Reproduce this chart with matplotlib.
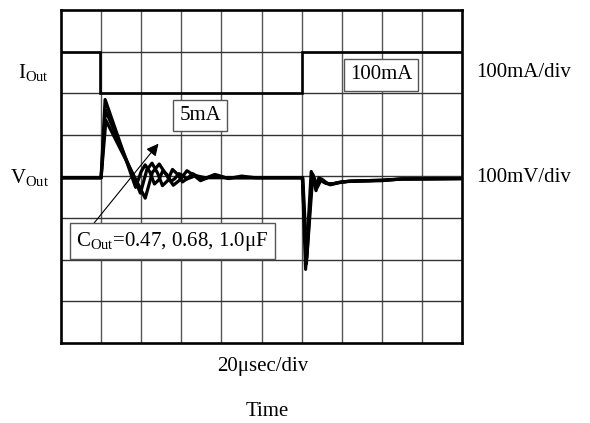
import matplotlib

matplotlib.use("Agg")
import matplotlib.pyplot as plt

# scope screen: 10 x 8 divisions, values read in divisions
N_XDIV = 10
N_YDIV = 8

# output current (division units)
i_t = [0.0, 0.98, 0.98, 6.0, 6.0, 10.0]
i_v = [7.0, 7.0, 6.0, 6.0, 7.0, 7.0]

# output voltage, one trace per output capacitor (0.47, 0.68, 1.0 uF)
v1_t = [0.0, 1.0, 1.10, 1.86, 2.00, 2.10, 2.22, 2.33, 2.44, 2.54, 2.64, 2.74, 2.84,
        2.94, 3.04, 3.14, 3.36, 3.60, 5.95,
        6.02, 6.10, 6.24, 6.36, 6.43, 6.55, 6.72, 6.92, 7.16, 8.0, 8.5, 10.0]
v1_v = [3.97, 3.97, 5.85, 3.74, 4.12, 4.28, 4.10, 3.82, 3.92, 4.14, 4.05, 3.88, 3.95,
        4.07, 4.02, 3.94, 4.02, 3.97, 3.97,
        3.97, 1.77, 4.12, 3.66, 3.97, 3.86, 3.80, 3.85, 3.88, 3.90, 3.94, 3.95]
v2_t = [0.0, 1.0, 1.11, 1.98, 2.14, 2.27, 2.41, 2.53, 2.66, 2.78, 2.91, 3.03, 3.16,
        3.28, 3.53, 3.80, 4.10, 5.95,
        6.02, 6.12, 6.26, 6.38, 6.46, 6.60, 6.75, 6.95, 7.20, 8.0, 8.5, 10.0]
v2_v = [3.97, 3.97, 5.60, 3.60, 4.16, 4.32, 4.08, 3.78, 3.90, 4.17, 4.05, 3.87, 3.96,
        4.07, 3.93, 4.03, 3.97, 3.97,
        3.97, 1.90, 4.08, 3.72, 3.95, 3.84, 3.82, 3.86, 3.89, 3.91, 3.94, 3.95]
v3_t = [0.0, 1.0, 1.12, 2.10, 2.28, 2.45, 2.62, 2.80, 2.97, 3.14, 3.31, 3.48, 3.84,
        4.18, 4.50, 4.85, 5.95,
        6.03, 6.13, 6.28, 6.40, 6.50, 6.65, 6.80, 7.00, 7.25, 8.0, 8.5, 10.0]
v3_v = [3.97, 3.97, 5.35, 3.48, 4.10, 4.30, 4.05, 3.79, 3.92, 4.14, 4.03, 3.90, 4.05,
        3.95, 4.01, 3.97, 3.97,
        3.97, 2.05, 4.05, 3.76, 3.94, 3.83, 3.83, 3.87, 3.89, 3.91, 3.94, 3.95]

SERIF = ["Liberation Serif", "DejaVu Serif"]
plt.rcParams["font.family"] = SERIF
plt.rcParams["mathtext.fontset"] = "custom"
plt.rcParams["mathtext.rm"] = "Liberation Serif"
plt.rcParams["mathtext.it"] = "Liberation Serif:italic"

fig = plt.figure(figsize=(5.9, 4.23), dpi=100)
ax = fig.add_axes([61 / 590, 1 - 343 / 423, 401 / 590, 333 / 423])
ax.set_xlim(0, N_XDIV)
ax.set_ylim(0, N_YDIV)
ax.set_xticks([])
ax.set_yticks([])
for sp in ax.spines.values():
    sp.set_linewidth(1.9)
    sp.set_color("black")

# graticule
for k in range(1, N_XDIV):
    ax.axvline(k, color="#555555", lw=1.0, zorder=1)
for k in range(1, N_YDIV):
    ax.axhline(k, color="#333333", lw=1.0, zorder=1)

ax.plot(i_t, i_v, color="black", lw=1.9, zorder=3, solid_joinstyle="miter")
for tt, vv in [(v1_t, v1_v), (v2_t, v2_v), (v3_t, v3_v)]:
    ax.plot(tt, vv, color="black", lw=2.3, zorder=3)

box = dict(boxstyle="square,pad=0.3", facecolor="white", edgecolor="#555555", lw=1.0)
fs = 15
ax.text(7.98, 6.44, "100mA", fontsize=fs, ha="center", va="center", bbox=box, zorder=5)
ax.text(3.47, 5.46, "5mA", fontsize=fs, ha="center", va="center", bbox=box, zorder=5)
ax.text(2.77, 2.45, "C$_{\\mathrm{Out}}$=0.47, 0.68, 1.0\u03bcF", fontsize=fs,
        ha="center", va="center", bbox=box, zorder=5)

ax.annotate("", xy=(2.43, 4.79), xytext=(0.79, 2.84),
            arrowprops=dict(arrowstyle="-|>", color="black", lw=0.8,
                            mutation_scale=18, shrinkA=0, shrinkB=0), zorder=4)

# channel labels
ax.text(-0.3, 6.5, "I$_{\\mathrm{Out}}$", fontsize=fs, ha="right", va="center",
        clip_on=False)
ax.text(-0.3, 3.97, "V$_{\\mathrm{Out}}$", fontsize=fs, ha="right", va="center",
        clip_on=False)
ax.text(10.35, 6.5, "100mA/div", fontsize=fs, ha="left", va="center", clip_on=False)
ax.text(10.35, 3.97, "100mV/div", fontsize=fs, ha="left", va="center", clip_on=False)

fig.text(263 / 590, 1 - 366 / 423, "20\u03bcsec/div", fontsize=fs, ha="center", va="center")
fig.text(267 / 590, 1 - 411 / 423, "Time", fontsize=fs, ha="center", va="center")

fig.savefig("out.png", dpi=100)
